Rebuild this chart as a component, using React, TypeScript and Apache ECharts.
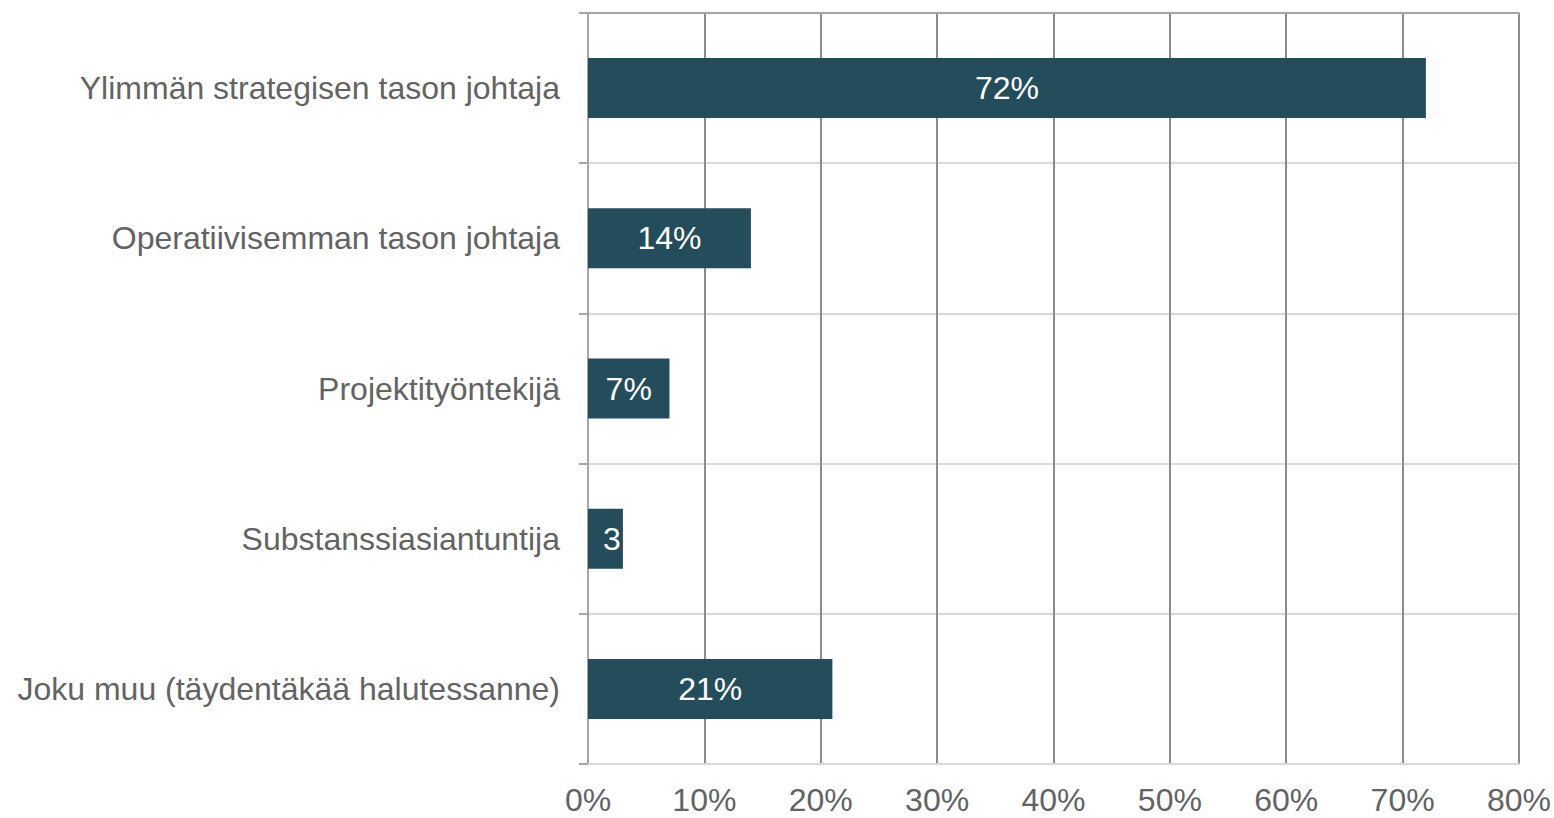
import React, { useEffect, useRef } from "react";
import * as echarts from "echarts";

const categories = [
  "Ylimmän strategisen tason johtaja",
  "Operatiivisemman tason johtaja",
  "Projektityöntekijä",
  "Substanssiasiantuntija",
  "Joku muu (täydentäkää halutessanne)",
];
const values = [72, 14, 7, 3, 21];
const labelTexts = ["72%", "14%", "7%", "3", "21%"];
const xTicks = [0, 10, 20, 30, 40, 50, 60, 70, 80];

const FONT = "'Liberation Sans', Arial, sans-serif";
const TEXT = "#636363";

export default function App() {
  const ref = useRef<HTMLDivElement>(null);
  useEffect(() => {
    if (!ref.current) return;
    const chart = echarts.init(ref.current, undefined, { renderer: "svg" });
    chart.setOption({
      animation: false,
      grid: { left: 588, right: 34, top: 13, bottom: 54, containLabel: false },
      xAxis: [
        {
          type: "value",
          min: xTicks[0],
          max: xTicks[xTicks.length - 1],
          interval: 10,
          position: "bottom",
          axisLine: { show: true, lineStyle: { color: "#D9D9D9", width: 2 } },
          axisTick: { show: false },
          axisLabel: {
            formatter: (v: number) => v + "%",
            color: TEXT,
            fontFamily: FONT,
            fontSize: 32,
            margin: 20,
          },
          splitLine: { show: true, lineStyle: { color: "#8C8C8C", width: 2 } },
        },
        {
          type: "value",
          min: xTicks[0],
          max: xTicks[xTicks.length - 1],
          interval: 10,
          position: "top",
          axisLine: { show: true, lineStyle: { color: "#A6A6A6", width: 2 } },
          axisTick: { show: false },
          axisLabel: { show: false },
          splitLine: { show: false },
        },
      ],
      yAxis: {
        type: "category",
        data: categories,
        inverse: true,
        axisLine: { show: true, lineStyle: { color: "#A6A6A6", width: 2 } },
        axisTick: { show: true, length: 9, lineStyle: { color: "#A6A6A6", width: 2 } },
        axisLabel: {
          color: TEXT,
          fontFamily: FONT,
          fontSize: 32,
          margin: 28,
        },
        splitLine: { show: true, lineStyle: { color: "#D9D9D9", width: 2 } },
      },
      series: [
        {
          type: "bar",
          xAxisIndex: 0,
          barWidth: 60,
          itemStyle: { color: "#234D5B" },
          data: values.map((v, i) => ({
            value: v,
            label: {
              show: true,
              position: labelTexts[i] === "3" ? "insideRight" : "inside",
              distance: 2,
              formatter: labelTexts[i],
              color: "#FFFFFF",
              fontFamily: FONT,
              fontSize: 32,
            },
          })),
        },
      ],
    });
    return () => chart.dispose();
  }, []);
  return <div ref={ref} style={{ width: 1554, height: 818, position: "absolute", left: 0, top: 0 }} />;
}
